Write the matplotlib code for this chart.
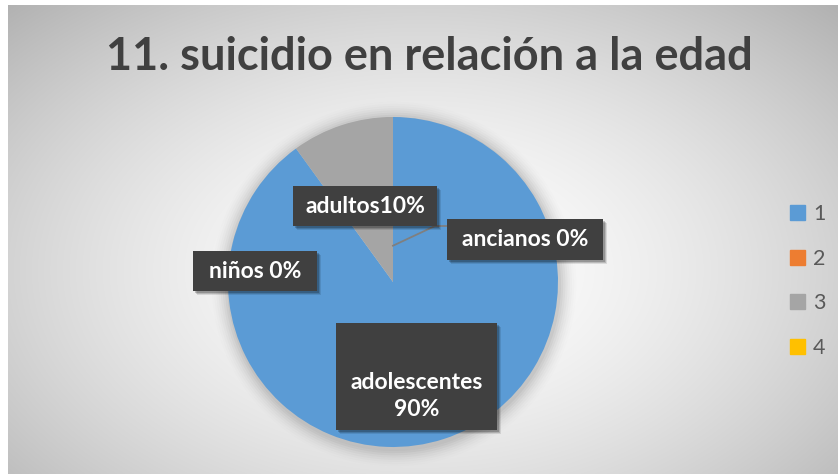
import numpy as np
import matplotlib
matplotlib.use("Agg")
import matplotlib.pyplot as plt
from matplotlib.patches import Rectangle

plt.rcParams["hatch.color"] = "#575757"
plt.rcParams["hatch.linewidth"] = 1.0

# ---- data ----
title = "11. suicidio en relación a la edad"
legend_labels = ["1", "2", "3", "4"]
values = [90, 0, 10, 0]
data_labels = ["adolescentes\n90%", "niños 0%", "adultos10%", "ancianos 0%"]
colors = ["#5B9BD5", "#ED7D31", "#A5A5A5", "#FFC000"]

W, H = 838, 474
fig = plt.figure(figsize=(W / 100, H / 100), dpi=100)
fig.patch.set_facecolor("white")

# background radial gradient
bg = fig.add_axes([0, 0, 1, 1])
bg.set_xlim(0, W)
bg.set_ylim(H, 0)
bg.axis("off")
yy, xx = np.mgrid[0:H, 0:W]
cx, cy = 420, 270
d = np.sqrt(((xx - cx) / 520) ** 2 + ((yy - cy) / 330) ** 2)
val = 1.0 - 0.25 * np.clip(d, 0, 1.2) ** 1.6
img = np.dstack([val, val, val])
x0, y0 = 8, 5
bg.imshow(img[y0:, x0:], extent=(x0, W, H, y0), interpolation="bilinear", zorder=0)

# pie axes in pixel coordinates
ax = fig.add_axes([0, 0, 1, 1])
ax.set_xlim(0, W)
ax.set_ylim(0, H)
ax.axis("off")
ax.patch.set_alpha(0)
center = (393, H - 282)
R = 165

# soft shadow
for i, a in enumerate(np.linspace(0.035, 0.008, 8)):
    c = plt.Circle((center[0] + 1, center[1] - 2), R + 2 + i * 2.2, color="black",
                   alpha=a, lw=0, zorder=1)
    ax.add_patch(c)

wedges, _ = ax.pie(values, colors=colors, startangle=90, counterclock=False,
                   center=center, radius=R, wedgeprops=dict(lw=0, zorder=2))
ax.set_xlim(0, W)
ax.set_ylim(0, H)
ax.set_aspect("equal")

font = "Lato"

def label(box, s, ty=None):
    # box = (left, top, right, bottom) in pixel layout coordinates
    l, t, r, b = box
    for k, a in ((4, 0.10), (3, 0.15), (2, 0.2)):
        ax.add_patch(Rectangle((l + k, H - b - k), r - l, b - t, fc="black",
                               lw=0, alpha=a, zorder=4.5))
    ax.add_patch(Rectangle((l, H - b), r - l, b - t, fc="#404040", ec="#404040",
                           lw=0, hatch="..", zorder=5))
    if ty is None:
        ty = (t + b) / 2
    ax.text((l + r) / 2, H - ty, s, color="white", fontsize=16.5, fontweight="bold",
            family=font, ha="center", va="center", zorder=6, linespacing=1.3)

label((336, 323, 497, 430), data_labels[0], ty=396)
label((193, 251, 317, 291), data_labels[1])
label((293, 186, 437, 226), data_labels[2])
label((447, 219, 603, 260), data_labels[3])

# leader line for the zero slice at the top
ang = np.deg2rad(90)
px, py = center[0] + 0.22 * R * np.cos(ang), center[1] + 0.22 * R * np.sin(ang)
ax.plot([px, 435, 447], [py, H - 226, H - 226], color="#7f7f7f", lw=1.3, zorder=4)

# title
fig.text(429 / W, 1 - 57 / H, title, ha="center", va="center", fontsize=32.5,
         fontweight="bold", family=font, color="#404040")

# legend
handles = [Rectangle((0, 0), 1, 1, color=c) for c in colors]
leg = fig.legend(handles, legend_labels, loc="center left",
                 bbox_to_anchor=(771 / W, 1 - 281 / H), frameon=False,
                 handlelength=0.7, handleheight=0.7, handletextpad=0.35,
                 labelspacing=1.15, prop=dict(family=font, size=15.5))
for t in leg.get_texts():
    t.set_color("#595959")

fig.savefig("out.png", dpi=100)
